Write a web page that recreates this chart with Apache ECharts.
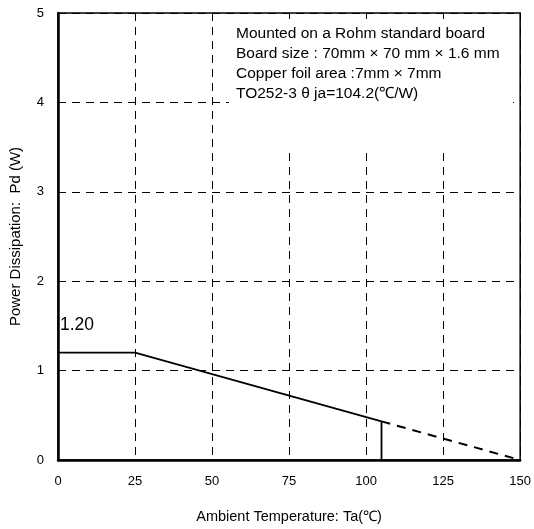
<!DOCTYPE html>
<html><head><meta charset="utf-8">
<script src="https://cdn.jsdelivr.net/npm/echarts@6/dist/echarts.min.js"></script>
<style>html,body{margin:0;padding:0;background:#fff}#c{width:534px;height:529px}</style>
</head><body><div id="c"></div>
<script>
const xTicks = [0, 25, 50, 75, 100, 125, 150];
const yTicks = [0, 1, 2, 3, 4, 5];
const solidTemp = [0, 25, 105];
const solidPower = [1.2, 1.2, 0.432];
const dropTemp = [105, 105];
const dropPower = [0.432, 0];
const dashTemp = [105, 150];
const dashPower = [0.432, 0];
const noteLines = [
  'Mounted on a Rohm standard board',
  'Board size : 70mm \u00d7 70 mm \u00d7 1.6 mm',
  'Copper foil area :7mm \u00d7 7mm',
  'TO252-3 \u03b8 ja=104.2(\u2103/W)'
];
const peakLabel = '1.20';

const font = 'Liberation Sans, Arial, sans-serif';
const chart = echarts.init(document.getElementById('c'));
const pairs = (xs, ys) => xs.map((x, i) => [x, ys[i]]);
chart.setOption({
  animation: false,
  grid: { left: 52, right: 12, top: 13, bottom: 67, show: true, borderColor: '#000', borderWidth: 1.5, backgroundColor: 'transparent' },
  xAxis: {
    type: 'value', min: xTicks[0], max: xTicks[xTicks.length - 1], interval: 25,
    name: 'Ambient Temperature: Ta(\u2103)', nameLocation: 'middle', nameGap: 49,
    nameTextStyle: { fontFamily: font, fontSize: 14.5, color: '#000' },
    axisLine: { show: true, lineStyle: { color: '#000', width: 2.5 } },
    axisTick: { show: false },
    axisLabel: { fontFamily: font, fontSize: 13, color: '#000', margin: 15 },
    splitLine: { show: true, lineStyle: { color: '#000', width: 1, type: [8, 6] } }
  },
  yAxis: {
    type: 'value', min: yTicks[0], max: yTicks[yTicks.length - 1], interval: 1,
    name: 'Power Dissipation:  Pd (W)', nameLocation: 'middle', nameGap: 35,
    nameTextStyle: { fontFamily: font, fontSize: 15, color: '#000' },
    axisLine: { show: true, lineStyle: { color: '#000', width: 2.5 } },
    axisTick: { show: false },
    axisLabel: { fontFamily: font, fontSize: 13, color: '#000', margin: 14 },
    splitLine: { show: true, lineStyle: { color: '#000', width: 1, type: [8, 6] } }
  },
  series: [
    { type: 'line', data: pairs(solidTemp, solidPower), symbol: 'none', lineStyle: { color: '#000', width: 1.8 }, z: 5 },
    { type: 'line', data: pairs(dropTemp, dropPower), symbol: 'none', lineStyle: { color: '#000', width: 1.8 }, z: 5 },
    { type: 'line', data: pairs(dashTemp, dashPower), symbol: 'none', lineStyle: { color: '#000', width: 2, type: [9, 7] }, z: 5 }
  ],
  graphic: [
    { type: 'rect', shape: { x: 229, y: 19, width: 284, height: 131 }, style: { fill: '#fff' }, z: 10 },
    { type: 'text', left: 236, top: 24, z: 11,
      style: { text: noteLines.join('\n'), font: '15.5px ' + font, fill: '#000', lineHeight: 20 } },
    { type: 'text', left: 60, top: 316, z: 11,
      style: { text: peakLabel, font: '17.5px ' + font, fill: '#000' } }
  ]
});
</script></body></html>
